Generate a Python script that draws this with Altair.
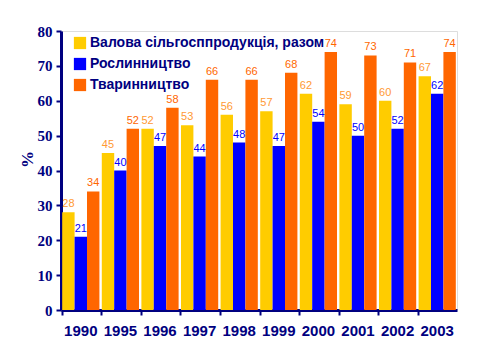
import altair as alt
import pandas as pd

years = ["1990", "1995", "1996", "1997", "1998", "1999", "2000", "2001", "2002", "2003"]
series = ["Валова сільгосппродукція, разом", "Рослинництво", "Тваринництво"]
total = [28, 45, 52, 53, 56, 57, 62, 59, 60, 67]
crops = [21, 40, 47, 44, 48, 47, 54, 50, 52, 62]
livestock = [34, 52, 58, 66, 66, 68, 74, 73, 71, 74]

bar_colors = ["#FFCC00", "#0000FF", "#FF6600"]
label_colors = ["#FF9933", "#0000FF", "#FF6600"]

rows = []
for vals, s, o in zip([total, crops, livestock], series, range(3)):
    for y, v in zip(years, vals):
        rows.append({"year": y, "series": s, "order": o, "value": v})
df = pd.DataFrame(rows)

navy = "#000080"

x = alt.X("year:N", sort=years, title=None,
          scale=alt.Scale(paddingInner=0.06, paddingOuter=0.03),
          axis=alt.Axis(labelAngle=0, labelFont="Liberation Sans", labelFontWeight="bold",
                        labelFontSize=15, labelColor=navy, labelPadding=8,
                        domainColor=navy, domainWidth=3, tickColor=navy, tickWidth=2,
                        tickSize=5, bandPosition=0))
xo = alt.XOffset("series:N", sort=series, scale=alt.Scale(paddingInner=0, paddingOuter=0))
y = alt.Y("value:Q", title="%",
          scale=alt.Scale(domain=[0, 80], nice=False),
          axis=alt.Axis(values=list(range(0, 81, 10)), grid=False,
                        labelFont="Liberation Serif", labelFontWeight="bold", labelFontSize=15,
                        labelColor=navy, labelPadding=4,
                        domainColor=navy, domainWidth=3, tickColor=navy, tickWidth=2, tickSize=5,
                        titleFont="Liberation Serif", titleFontWeight="bold", titleFontSize=17,
                        titleColor=navy, titleX=-25, titleY=128))

bars = alt.Chart(df).mark_bar().encode(
    x=x, xOffset=xo, y=y,
    color=alt.Color("series:N", sort=series,
                    scale=alt.Scale(domain=series, range=bar_colors),
                    legend=alt.Legend(title=None, orient="none", legendX=12, legendY=5,
                                      symbolType="square", symbolSize=150, symbolStrokeWidth=0,
                                      labelFont="Liberation Sans", labelFontWeight="bold",
                                      labelFontSize=14, labelColor=navy, rowPadding=7,
                                      labelOffset=3, labelLimit=400)),
)

labels = alt.Chart(df).mark_text(dy=-8, fontSize=11, font="Liberation Sans").encode(
    x=x, xOffset=xo, y=y,
    text="value:Q",
    color=alt.Color("series:N", sort=series,
                    scale=alt.Scale(domain=series, range=label_colors), legend=None),
)

chart = alt.layer(bars, labels).resolve_scale(color="independent").properties(
    width=396, height=279,
    autosize=alt.AutoSizeParams(type="none"),
    padding={"left": 53, "top": 23, "right": 10, "bottom": 44},
).configure_view(stroke=None).configure(background="white")

chart.save("out.html", embed_options={"renderer": "svg", "actions": False})
